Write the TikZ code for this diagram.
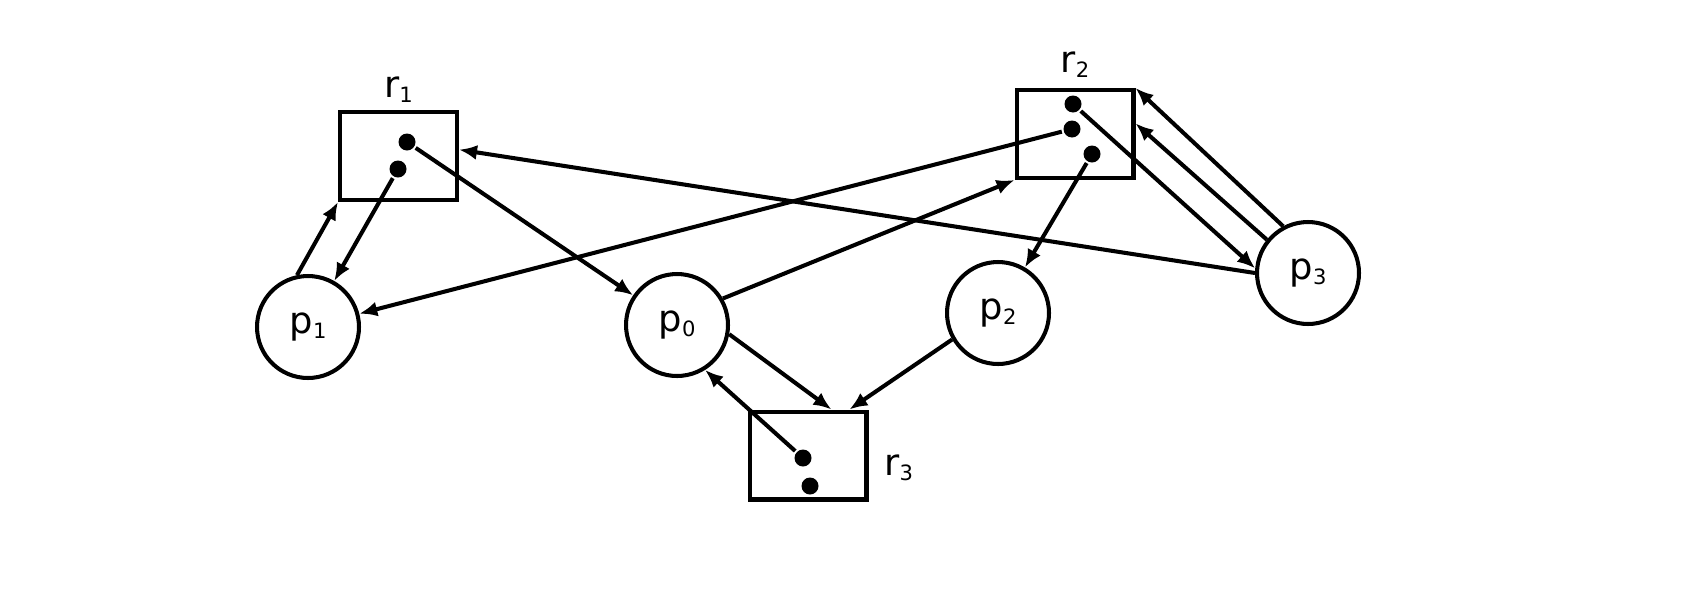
\documentclass[tikz,border=0pt]{standalone}
\usepackage{fontspec}
\setmainfont{DejaVu Sans}
\usetikzlibrary{arrows.meta,positioning}
\newcommand{\lsub}[1]{\raisebox{-0.14em}{\fontsize{12}{14}\selectfont #1}}

\begin{document}
\begin{tikzpicture}[x=0.02cm, y=-0.02cm, line width=2.3pt,
      >={Latex[length=0.36cm, width=0.3cm]},
      proc/.style = {draw, circle, minimum size=2.04cm, inner sep=0pt,
        font=\fontsize{21}{25}\selectfont},
      res/.style = {draw, rectangle, minimum width=2.34cm,
        minimum height=1.76cm, inner sep=0pt},
      dot/.style = {fill, circle, minimum size=0.34cm, inner sep=0pt},
      lab/.style = {inner sep=0pt, font=\fontsize{21}{25}\selectfont}]
      \useasboundingbox (0,0) rectangle (1692,613);

      \node[proc] (p0) at (677,325) {p\lsub{0}};
      \node[proc] (p1) at (308,327) {p\lsub{1}};
      \node[proc] (p2) at (998,313) {p\lsub{2}};
      \node[proc] (p3) at (1308,273) {p\lsub{3}};

      \node[res] (r1) at (398.5,156) {};
      \node[res] (r2) at (1075,134) {};
      \node[res] (r3) at (808,455.5) {};
      \node[lab, above=0.11cm of r1] (r1lab) {r\lsub{1}};
      \node[lab, above=0.17cm of r2] (r2lab) {r\lsub{2}};
      \node[lab, right=0.28cm of r3, yshift=-0.24cm] (r3lab) {r\lsub{3}};

      \node[dot] (d1a) at (407,142) {};
      \node[dot] (d1b) at (398,169) {};
      \node[dot] (d2a) at (1073,104) {};
      \node[dot] (d2b) at (1072,129) {};
      \node[dot] (d2c) at (1092,154) {};
      \node[dot] (d3a) at (803,458) {};
      \node[dot] (d3b) at (810,486) {};

      \draw[->] (p1.102) -- (r1.south west);
      \draw[->] (d1b) -- (p1);
      \draw[->] (d1a) -- (p0);
      \draw[->] (p3.180) -- (r1.6);
      \draw[->] (d2b) -- (p1);
      \draw[->] (p0.30) -- (r2.south west);
      \draw[->] (d2a) -- (p3.175);
      \draw[->] (d2c) -- (p2);
      \draw[->] (p3.118) -- (r2.north east);
      \draw[->] (p3.141) -- (r2.10);
      \draw[->] (p0.-10) -- (r3.63);
      \draw[->] (p2.210) -- (r3.48);
      \draw[->] (d3a) -- (p0.-58);
    \end{tikzpicture}
\end{document}
